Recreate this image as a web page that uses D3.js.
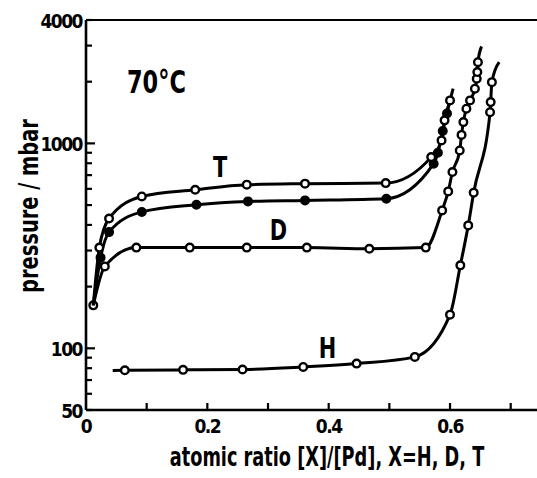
<!DOCTYPE html>
<html>
<head>
<meta charset="utf-8">
<script src="https://cdn.jsdelivr.net/npm/d3@7"></script>
<style>
  body { margin: 0; background: #fff; }
  svg { display: block; }
  text { font-family: "DejaVu Sans Condensed", "Liberation Sans Narrow", sans-serif; font-weight: bold; fill: #000; }
</style>
</head>
<body>
<svg id="grafico"></svg>
<script>
// datos (x = [X]/[Pd], p = mbar); mark 0 = solo linea
var hX = [0.044, 0.064, 0.160, 0.258, 0.358, 0.446, 0.542, 0.600, 0.617, 0.630, 0.639, 0.666, 0.667, 0.669, 0.681];
var hP = [78, 78.1, 78.5, 78.8, 81.1, 84.2, 90.8, 146, 254, 398, 575, 1420, 1590, 1990, 2490];
var hMark = [0, 1, 1, 1, 1, 1, 1, 1, 1, 1, 1, 1, 1, 1, 0];

var dX = [0.012, 0.031, 0.083, 0.171, 0.265, 0.364, 0.467, 0.560, 0.587, 0.597, 0.604, 0.616, 0.619, 0.622, 0.627, 0.633, 0.641, 0.644, 0.645, 0.646, 0.652];
var dP = [162, 251, 310, 310, 310, 310, 306, 310, 471, 583, 725, 924, 1100, 1270, 1477, 1621, 1849, 2069, 2228, 2490, 2970];
var dMark = [1, 1, 1, 1, 1, 1, 1, 1, 1, 1, 1, 1, 1, 1, 1, 1, 1, 1, 1, 1, 0];

var mX = [0.012, 0.024, 0.038, 0.092, 0.182, 0.267, 0.361, 0.495, 0.573, 0.580, 0.588, 0.595, 0.600];
var mP = [162, 277, 369, 463, 502, 521, 527, 537, 796, 900, 1150, 1400, 1620];
var mMark = [0, 1, 1, 1, 1, 1, 1, 1, 1, 1, 1, 1, 0];

var tX = [0.012, 0.022, 0.038, 0.092, 0.180, 0.265, 0.361, 0.494, 0.569, 0.586, 0.591, 0.600, 0.605];
var tP = [162, 310, 430, 551, 594, 629, 636, 640, 857, 1034, 1295, 1621, 1849];
var tMark = [0, 1, 1, 1, 1, 1, 1, 1, 1, 1, 1, 1, 0];

var yTicks = [50, 60, 70, 80, 90, 100, 200, 300, 400, 500, 600, 700, 800, 900, 1000, 2000, 3000, 4000];
var yLabels = [50, 100, 1000, 4000];
var xTicks = [0.1, 0.2, 0.3, 0.4, 0.5, 0.6, 0.7];
var xLabels = [0, 0.2, 0.4, 0.6];

var etiquetas = ["T", "D", "H"];
var etiquetaX = [0.221, 0.317, 0.398];
var etiquetaP = [683, 337, 90];

var anchura = 537, altura = 478;
var svg = d3.select("#grafico").attr("width", anchura).attr("height", altura);

var x = d3.scaleLinear().domain([0, 0.745]).range([86, 538]);
var y = d3.scaleLog().domain([50, 4000]).range([410, 20]);

// marco: izquierda, abajo, arriba
svg.append("line").attr("x1", x(0)).attr("x2", x(0)).attr("y1", y(4000)).attr("y2", y(50))
  .attr("stroke", "#000").attr("stroke-width", 2.6);
svg.append("line").attr("x1", x(0)).attr("x2", anchura).attr("y1", y(50)).attr("y2", y(50))
  .attr("stroke", "#000").attr("stroke-width", 2.6);
svg.append("line").attr("x1", x(0)).attr("x2", anchura).attr("y1", y(4000)).attr("y2", y(4000))
  .attr("stroke", "#000").attr("stroke-width", 2);

// marcas eje y (hacia dentro)
svg.selectAll(".ty").data(yTicks).join("line")
  .attr("x1", x(0)).attr("x2", function (d) { return x(0) + (d === 100 || d === 1000 ? 9 : 6); })
  .attr("y1", function (d) { return y(d); }).attr("y2", function (d) { return y(d); })
  .attr("stroke", "#000").attr("stroke-width", 2.2);
svg.selectAll(".ly").data(yLabels).join("text")
  .attr("x", 82).attr("y", function (d) { return y(d) + 8; })
  .attr("text-anchor", "end").style("font-size", "19px").style("letter-spacing", "-1.5px")
  .text(function (d) { return d; });

// marcas eje x
svg.selectAll(".tx").data(xTicks).join("line")
  .attr("x1", function (d) { return x(d); }).attr("x2", function (d) { return x(d); })
  .attr("y1", y(50)).attr("y2", y(50) - 7)
  .attr("stroke", "#000").attr("stroke-width", 2.2);
svg.selectAll(".lx").data(xLabels).join("text")
  .attr("x", function (d) { return x(d); }).attr("y", 433)
  .attr("text-anchor", "middle").style("font-size", "19px").style("letter-spacing", "-1.5px")
  .text(function (d) { return d; });

// titulos (fuente estrecha como la del original)
svg.append("text").attr("transform", "translate(38,206) rotate(-90) scale(0.8,1)")
  .attr("text-anchor", "middle").style("font-size", "27px")
  .text("pressure / mbar");
svg.append("text").attr("transform", "translate(327,466) scale(0.73,1)")
  .attr("text-anchor", "middle").style("font-size", "27px")
  .text("atomic ratio [X]/[Pd], X=H, D, T");
svg.append("text").attr("transform", "translate(127,93) scale(0.78,1)")
  .style("font-size", "32px")
  .text("70°C");

// curvas
var series = [
  { xs: hX, ps: hP, mk: hMark, relleno: "#fff" },
  { xs: dX, ps: dP, mk: dMark, relleno: "#fff" },
  { xs: mX, ps: mP, mk: mMark, relleno: "#000" },
  { xs: tX, ps: tP, mk: tMark, relleno: "#fff" }
];
var linea = d3.line()
  .x(function (d) { return x(d[0]); })
  .y(function (d) { return y(d[1]); })
  .curve(d3.curveMonotoneX);

series.forEach(function (s) {
  var pts = s.xs.map(function (v, i) { return [v, s.ps[i], s.mk[i]]; });
  svg.append("path").datum(pts).attr("d", linea)
    .attr("fill", "none").attr("stroke", "#000").attr("stroke-width", 3);
  svg.selectAll(null).data(pts.filter(function (d) { return d[2]; })).join("circle")
    .attr("cx", function (d) { return x(d[0]); })
    .attr("cy", function (d) { return y(d[1]); })
    .attr("r", 3.8)
    .attr("fill", s.relleno).attr("stroke", "#000").attr("stroke-width", 2.4);
});

// etiquetas de curvas
svg.selectAll(".et").data(etiquetas).join("text")
  .attr("x", function (d, i) { return x(etiquetaX[i]); })
  .attr("y", function (d, i) { return y(etiquetaP[i]); })
  .attr("text-anchor", "middle").style("font-size", "29px")
  .attr("transform", function (d, i) { var cx = x(etiquetaX[i]); return "translate(" + cx + ",0) scale(0.8,1) translate(" + (-cx) + ",0)"; })
  .text(function (d) { return d; });
</script>
</body>
</html>
